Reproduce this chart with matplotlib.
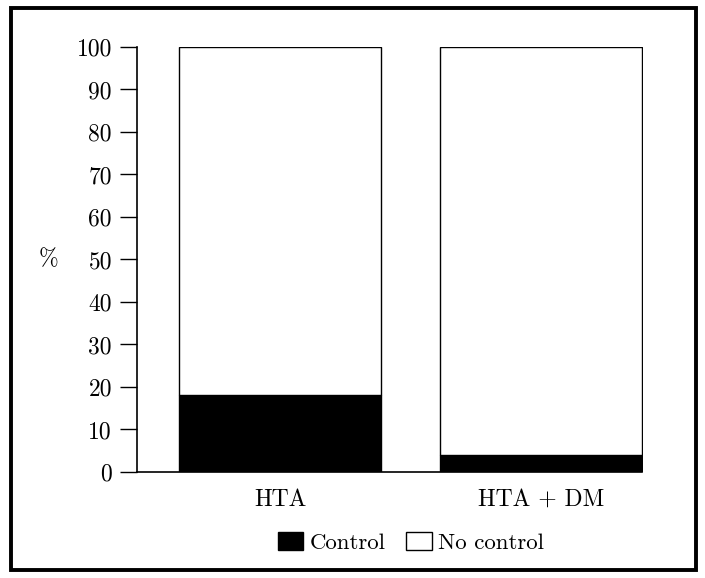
import matplotlib.pyplot as plt
from matplotlib.patches import Rectangle

plt.rcParams['font.family'] = ['cmr10', 'DejaVu Serif']
plt.rcParams['axes.formatter.use_mathtext'] = True

groups = ['HTA', 'HTA + DM']
control = [18, 4]
no_control = [82, 96]
yticks = list(range(0, 101, 10))

fig = plt.figure(figsize=(7.05, 5.78), dpi=100)
ax = fig.add_axes([0.1943, 0.1834, 0.7177, 0.7353])

x = [0, 1]
w = 0.776
ax.bar(x, control, w, color='black', edgecolor='black', linewidth=1, label='Control')
ax.bar(x, no_control, w, bottom=control, color='white', edgecolor='black', linewidth=1, label='No control')

ax.set_xlim(-0.549, 1.392)
ax.set_ylim(0, 100)
ax.set_yticks(yticks)
ax.set_yticklabels([str(v) for v in yticks], fontsize=17)
ax.set_xticks(x)
ax.set_xticklabels(groups, fontsize=17)
ax.tick_params(axis='y', length=12, width=1, pad=6)
ax.tick_params(axis='x', length=0, pad=12)
for s in ['top', 'right']:
    ax.spines[s].set_visible(False)
for s in ['left', 'bottom']:
    ax.spines[s].set_linewidth(1.2)
ax.spines['bottom'].set_bounds(-0.549, 1.388)

ax.set_ylabel('%', rotation=0, fontsize=17, labelpad=20, va='center')

fig.legend(loc='center', bbox_to_anchor=(0.583, 0.061), ncol=2, frameon=False,
           fontsize=16.5, handlelength=1.1, handleheight=0.8, handletextpad=0.3,
           columnspacing=0.9)

fig.patches.append(Rectangle((0.016, 0.013), 0.971, 0.973, transform=fig.transFigure,
                             fill=False, edgecolor='black', linewidth=2.8))

fig.savefig('out.png', dpi=100)
